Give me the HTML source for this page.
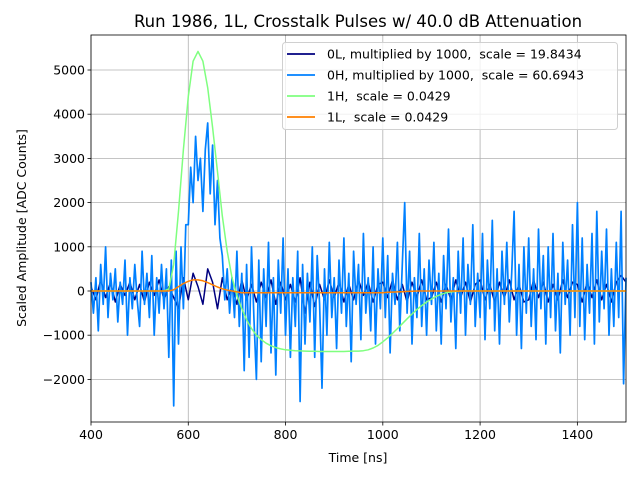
<!DOCTYPE html>
<html><head><meta charset="utf-8"><style>
body{margin:0;background:#fff;}
svg{display:block;font-family:"DejaVu Sans","Liberation Sans",sans-serif;}
</style></head><body>
<svg id="chart" width="640" height="480"></svg>
<script>
const xTicks=[400,600,800,1000,1200,1400];
const yTicks=[-2000,-1000,0,1000,2000,3000,4000,5000];
const h0Start=400,h0Step=5;
const series0H=[200,-500,300,-900,600,-300,1000,-600,400,-200,
500,-700,200,-300,700,-1000,300,-400,600,-200,
-800,900,-300,400,-600,800,-1000,300,-500,600,
-400,500,-1500,700,-2600,900,-1200,1000,-400,1500,
1500,2800,2000,3500,2500,3000,1800,3200,3800,2200,
3300,1500,2500,1200,800,-200,500,-500,300,-600,
900,-800,400,-1800,600,-1500,1000,-600,-2000,700,
-1600,500,-800,1100,-1400,300,-1900,700,-500,1200,
-1000,500,-1500,300,-800,900,-2500,600,-1200,400,
-700,1000,-1500,800,-300,-2200,500,-1000,1100,-600,
300,-1300,700,-500,1200,-800,400,-1600,900,-300,
600,-1100,1300,-500,300,-900,1000,-1200,500,-400,
1200,-600,800,-1400,400,-300,1100,-900,600,2000,
-500,900,-1200,300,-600,1300,-800,500,-1000,700,
-300,1100,-900,400,-1200,800,-400,1400,-700,300,
-1300,900,-500,1200,-1000,600,-300,1500,-800,400,
-600,1300,-1100,700,-400,1600,-900,500,-1200,900,
-300,1100,-700,400,1800,-1000,600,-1300,1000,-500,
1200,-800,500,-1100,1400,-400,800,-1200,1000,-600,
1300,-900,400,-1400,1100,-300,700,-1000,1500,-600,
2000,-800,1200,-1100,600,-500,1300,-1200,1800,-700,
900,-400,1400,-1000,500,-800,1100,-600,1800,-2100,300];
const lStart=400,lStep=10;
const series0L=[100,-200,250,-150,200,-250,150,-100,200,-200,
150,-250,200,-100,250,-200,100,-150,-400,300,
-200,400,100,-300,500,200,-400,300,-200,100,
-300,250,-200,150,-250,200,-150,250,-300,200,
-200,150,-250,300,-500,200,-350,150,-200,250,
-150,200,-250,150,-200,250,-100,200,-250,150,
200,-150,250,-200,150,-250,200,-150,250,-200,
-150,200,-250,150,-200,250,-150,200,-250,150,
250,-200,150,-250,200,-150,250,-200,150,-250,
-200,250,-150,200,-250,150,-200,250,-150,200,
150,-250,200,-150,250,-200,150,-250,200,350,200];
const series1H=[0,0,0,0,0,0,0,0,0,0,0,0,0,0,0,0,
50,600,1800,3200,4400,5200,5420,5200,4600,3700,2700,1700,900,300,-100,-400,-650,-850,-1000,-1100,-1180,-1240,-1280,-1310,-1330,
-1340,-1350,-1355,-1360,-1365,-1365,-1370,-1370,-1370,-1370,-1370,-1370,-1365,-1360,-1360,
-1350,-1330,-1290,-1230,-1150,-1060,-960,-850,-740,-630,-520,-420,-330,-250,-180,-120,-75,-40,-20,-10,
0,0,0,0,0,0,0,0,0,0,0,0,0,0,0,0,0,0,0,0,0,0,0,0,0,0,0,0,0,0,0,0,0,0,0];
const series1L=[0,0,0,0,0,0,0,0,0,0,0,0,0,0,0,0,0,
30,100,170,220,250,250,230,190,140,90,50,20,0,-20,
-40,-40,-40,-40,-40,-40,-40,-40,-40,-40,-40,-40,-40,-40,-40,-40,-40,-40,-40,-40,-40,-40,-40,-40,-40,-40,-40,-40,-40,-40,
-30,-25,-20,-15,-10,-5,0,0,0,0,
0,0,0,0,0,0,0,0,0,0,0,0,0,0,0,0,0,0,0,0,0,0,0,0,0,0,0,0,0,0,0,0,0,0,0,0,0,0,0,0];

const L=91,R=626,T=35,B=422;
const xMin=400,xMax=1500,yMin=-2964,yMax=5792;
const xs=v=>L+(v-xMin)/(xMax-xMin)*(R-L);
const ys=v=>B-(v-yMin)/(yMax-yMin)*(B-T);
const svg=document.getElementById('chart');
const NS='http://www.w3.org/2000/svg';
function mk(tag,at,parent){const e=document.createElementNS(NS,tag);for(const k in at)e.setAttribute(k,at[k]);(parent||svg).appendChild(e);return e;}

const grid=mk('g',{});


xTicks.forEach(t=>{mk('line',{x1:xs(t),x2:xs(t),y1:T,y2:B,stroke:'#b0b0b0','stroke-width':0.8},grid);});
yTicks.forEach(t=>{mk('line',{x1:L,x2:R,y1:ys(t),y2:ys(t),stroke:'#b0b0b0','stroke-width':0.8},grid);});

function line(arr,start,step,color,name,w){
  const pts=arr.map((v,i)=>xs(start+i*step).toFixed(1)+','+ys(v).toFixed(1)).join(' ');
  const p=mk('polyline',{points:pts,fill:'none',stroke:color,'stroke-width':w||1.5,'stroke-linejoin':'round'});
  
  
}
line(series0L,lStart,lStep,'#00007f','series-0L');
line(series0H,h0Start,h0Step,'#0080ff','series-0H',1.7);
line(series1H,lStart,lStep,'#7fff7f','series-1H');
line(series1L,lStart,lStep,'#ff8000','series-1L');

const frame=mk('rect',{x:L,y:T,width:R-L,height:B-T,fill:'none',stroke:'#000','stroke-width':0.8});



xTicks.forEach(t=>{
  mk('line',{x1:xs(t),x2:xs(t),y1:B,y2:B+3.5,stroke:'#000','stroke-width':0.8});
  const tx=mk('text',{x:xs(t),y:B+17,'text-anchor':'middle','font-size':12.5});
  tx.textContent=t;
  
  
});
yTicks.forEach(t=>{
  mk('line',{x1:L-3.5,x2:L,y1:ys(t),y2:ys(t),stroke:'#000','stroke-width':0.8});
  const tx=mk('text',{x:L-6,y:ys(t)+4.5,'text-anchor':'end','font-size':12.5});
  tx.textContent=t<0?'\u2212'+Math.abs(t):t;
  
  
});

const title=mk('text',{x:358,y:27,'text-anchor':'middle','font-size':16.5});
title.textContent='Run 1986, 1L, Crosstalk Pulses w/ 40.0 dB Attenuation';


const xl=mk('text',{x:358,y:462,'text-anchor':'middle','font-size':12.5});
xl.textContent='Time [ns]';


const yl=mk('text',{x:0,y:0,'text-anchor':'middle','font-size':12.5,transform:'translate(26,228) rotate(-90)'});
yl.textContent='Scaled Amplitude [ADC Counts]';



const lg=mk('g',{});


mk('rect',{x:282.5,y:42.5,width:335,height:87,rx:3,fill:'#fff','fill-opacity':0.8,stroke:'#d0d0d0'},lg);
const entries=[['#00007f','0L, multiplied by 1000,  scale = 19.8434'],['#0080ff','0H, multiplied by 1000,  scale = 60.6943'],['#7fff7f','1H,  scale = 0.0429'],['#ff8000','1L,  scale = 0.0429']];
entries.forEach((e,i)=>{
  const y=54+i*21;
  const g=mk('g',{},lg);
  
  
  mk('line',{x1:287,x2:315,y1:y,y2:y,stroke:e[0],'stroke-width':1.8},g);
  const t=mk('text',{x:327,y:y+4.5,'font-size':12.5},g);
  t.style.whiteSpace='pre';
  t.textContent=e[1];
});
</script>
</body></html>
